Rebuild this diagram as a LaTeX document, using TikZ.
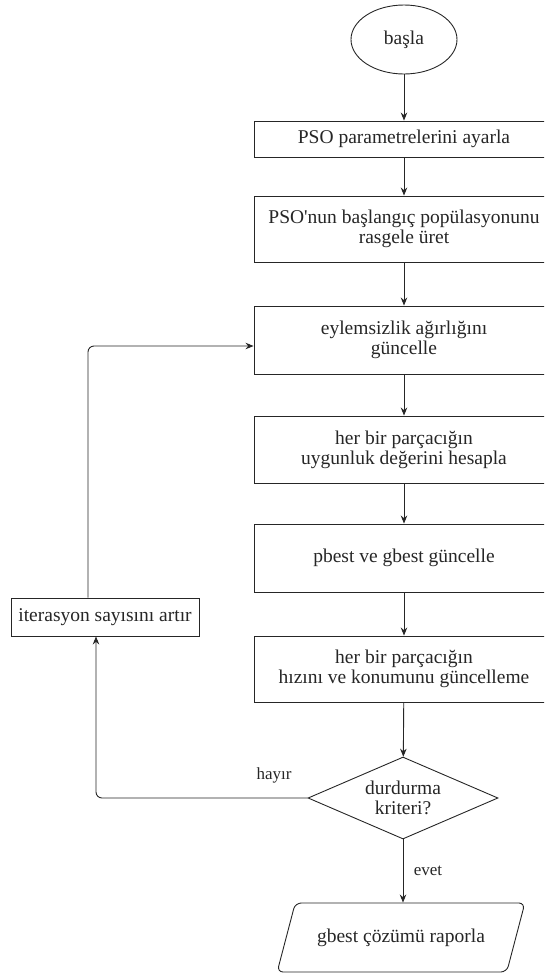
\documentclass[tikz,border=0pt]{standalone}
\usepackage{fontspec}
\setmainfont{Liberation Serif}[Ligatures=NoCommon]
\newfontfamily\chartfont{Liberation Serif}
\usetikzlibrary{shapes.geometric,arrows.meta,calc}
\begin{document}
\begin{tikzpicture}[x=1pt,y=1pt,
  every node/.style={font=\chartfont\fontsize{19.5}{20}\selectfont, text=black!85},
  stepbox/.style={draw=black!85, line width=0.9pt, rectangle, minimum width=300pt,
    minimum height=#1, align=center, inner sep=0pt},
  startnode/.style={draw=black!85, line width=0.9pt, ellipse, minimum width=106pt,
    minimum height=69pt, inner sep=0pt},
  decision/.style={draw=black!85, line width=0.9pt, diamond, minimum width=190pt,
    minimum height=82pt, aspect=2.3, inner sep=0pt, align=center},
  iobox/.style={draw=black!85, line width=0.9pt, trapezium, trapezium left angle=51,
    trapezium right angle=129, trapezium stretches=true, minimum width=248pt,
    minimum height=69pt, rounded corners=6pt, inner sep=0pt},
  conn/.style={draw=black!85, line width=0.9pt, -{Stealth[length=8pt,width=6.5pt]}},
  edgelabel/.style={font=\chartfont\fontsize{17}{18}\selectfont, text=black!85},
]
\useasboundingbox (0,0) rectangle (544,-975);
\clip (0,0) rectangle (544,-975);

% main column
\node[startnode] (start) at (404,-39.5) {başla};
\node[stepbox=36pt] (b1) at (404,-139) {PSO parametrelerini ayarla};
\node[stepbox=66pt] (b2) at (404,-229) {PSO{\char"0027}nun başlangıç popülasyonunu\\rasgele üret};
\node[stepbox=68pt] (b3) at (404,-340) {eylemsizlik ağırlığını\\güncelle};
\node[stepbox=67pt] (b4) at (404,-449.5) {her bir parçacığın\\uygunluk değerini hesapla};
\node[stepbox=68pt] (b5) at (404,-558) {pbest ve gbest güncelle};
\node[stepbox=66pt] (b6) at (404,-669) {her bir parçacığın\\hızını ve konumunu güncelleme};
\node[decision] (dia) at (403,-798) {durdurma\\kriteri?};
\node[iobox] (out) at (401,-937.5) {gbest çözümü raporla};

% side box of the loop
\node[draw=black!85, line width=0.9pt, rectangle, minimum width=188pt,
  minimum height=38pt, inner sep=0pt] (iter) at (105,-617) {iterasyon sayısını artır};

% forward flow
\draw[conn] (start) -- (b1);
\draw[conn] (b1) -- (b2);
\draw[conn] (b2) -- (b3);
\draw[conn] (b3) -- (b4);
\draw[conn] (b4) -- (b5);
\draw[conn] (b5) -- (b6);
\draw[conn] (b6) -- (dia);
\draw[conn] (dia.south) -- (out.north -| dia.south);

% loop back
\draw[conn, rounded corners=6pt] (dia.west) -| ([xshift=-9pt]iter.south);
\draw[conn, rounded corners=6pt] ([xshift=-17pt]iter.north) |- ([yshift=-6pt]b3.west);

% branch labels
\node[edgelabel] (lno) at (274,-775) {hayır};
\node[edgelabel] (lyes) at (428,-871) {evet};
\end{tikzpicture}
\end{document}
